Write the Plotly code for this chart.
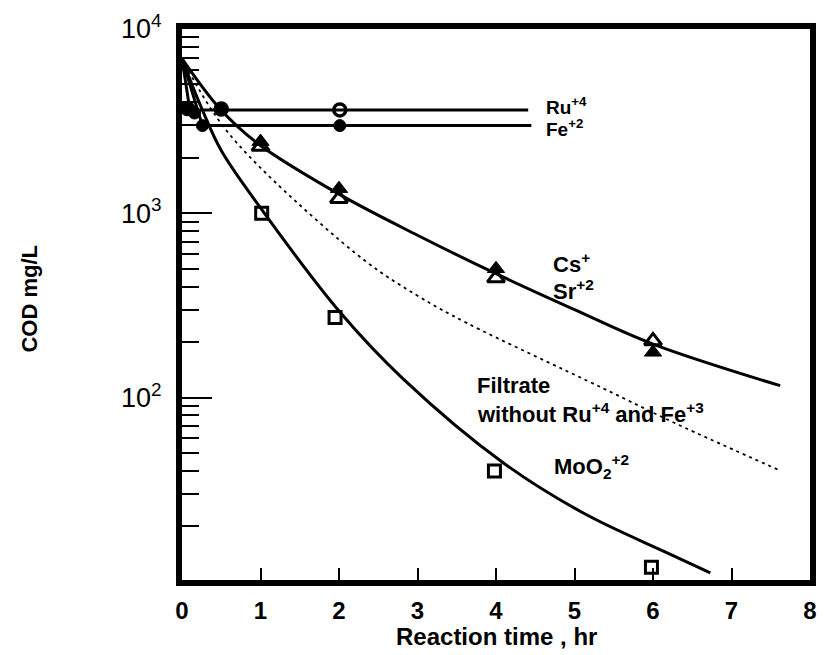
import math
import plotly.graph_objects as go

# ---------------- data ----------------
# Ru+4 markers and line
ru_pts_x = [0.07, 0.5, 2.01]
ru_pts_y = [3700, 3680, 3640]
ru_line_x = [0, 0.1, 4.41]
ru_line_y = [6900, 3640, 3640]

# Fe+2 markers and line
fe_pts_x = [0.16, 0.26, 2.01]
fe_pts_y = [3500, 2990, 2990]
fe_line_x = [0, 0.26, 4.45]
fe_line_y = [6900, 2990, 2990]

# Cs+ (filled triangles) and Sr+2 (open triangles)
cs_x = [1, 2, 4, 6]
cs_y = [2450, 1360, 500, 176]
sr_x = [1, 2, 4, 6]
sr_y = [2300, 1200, 445, 203]
cssr_curve_x = [0, 0.48, 0.96, 2.0, 3.0, 4.0, 5.0, 6.0, 7.62]
cssr_curve_y = [6900, 3700, 2400, 1270, 760, 470, 300, 195, 116]

# MoO2+2 (open squares)
mo_x = [1.015, 1.95, 3.98, 5.98]
mo_y = [1000, 272, 40, 12]
mo_curve_x = [0, 0.25, 0.5, 1.0, 2.0, 2.82, 4.1, 5.13, 6.16, 6.73]
mo_curve_y = [6900, 3720, 2190, 1070, 295, 126, 44, 23.4, 14.5, 11.2]

# Filtrate without Ru+4 and Fe+3 (dotted curve)
filt_x = [0, 0.3, 0.6, 1.17, 2.33, 3.0, 3.62, 5.35, 6.3, 7.63]
filt_y = [6900, 4100, 2700, 1500, 553, 357, 255, 113, 72, 40]

# axis ticks
x_ticks = [0, 1, 2, 3, 4, 5, 6, 7, 8]
y_major = [100, 1000, 10000]
y_major_text = ["10<sup>2</sup>", "10<sup>3</sup>", "10<sup>4</sup>"]
y_minor = [m * d for d in (10, 100, 1000) for m in range(2, 10)]

FONT = "Arial, Liberation Sans, sans-serif"
LW = 3

fig = go.Figure()

def line(x, y, dash="solid", width=LW, shape="spline"):
    fig.add_trace(go.Scatter(x=x, y=y, mode="lines",
                             line=dict(color="black", width=width, dash=dash,
                                       shape=shape, smoothing=1.0),
                             hoverinfo="skip", showlegend=False))

def pts(x, y, symbol, size=12, lw=3):
    fig.add_trace(go.Scatter(x=x, y=y, mode="markers",
                             marker=dict(symbol=symbol, size=size, color="black",
                                         line=dict(color="black", width=lw)),
                             showlegend=False))

line(ru_line_x, ru_line_y, shape="linear")
line(fe_line_x, fe_line_y, shape="linear")
line(cssr_curve_x, cssr_curve_y)
line(mo_curve_x, mo_curve_y)
line(filt_x, filt_y, dash="3px,4px", width=1.8)

pts(ru_pts_x, ru_pts_y, ["circle", "circle", "circle-open"], size=12, lw=3.5)
pts(fe_pts_x, fe_pts_y, "circle", size=12, lw=1)
pts(sr_x, sr_y, "triangle-up-open", size=15, lw=3)
pts(cs_x, cs_y, "triangle-up", size=15, lw=1)
pts(mo_x, mo_y, "square-open", size=12, lw=3)

labels = [
    (4.61, 3800, "Ru<sup>+4</sup>", 19),
    (4.61, 2900, "Fe<sup>+2</sup>", 19),
    (4.70, 540, "Cs<sup>+</sup>", 22),
    (4.70, 385, "Sr<sup>+2</sup>", 22),
    (3.73, 116, "Filtrate", 22),
    (3.73, 82, "without Ru<sup>+4</sup> and Fe<sup>+3</sup>", 22),
    (4.71, 42, "MoO<sub>2</sub><sup>+2</sup>", 22),
]
for lx, ly, t, fs in labels:
    fig.add_annotation(x=lx, y=math.log10(ly), yref="y", xref="x", text=t,
                       showarrow=False, xanchor="left", yanchor="middle",
                       font=dict(family=FONT, size=fs, color="black", weight="bold"))

fig.add_annotation(xref="paper", yref="paper", x=0.5, y=-0.103,
                   text="Reaction time , hr", showarrow=False,
                   xanchor="center", yanchor="middle",
                   font=dict(family=FONT, size=24, color="black", weight="bold"))
fig.add_annotation(xref="paper", yref="paper", x=-0.2435, y=0.511,
                   text="COD mg/L", showarrow=False, textangle=-90,
                   xanchor="center", yanchor="middle",
                   font=dict(family=FONT, size=22, color="black", weight="bold"))

fig.update_layout(
    width=827, height=655,
    margin=dict(l=182, r=10, t=28, b=75),
    paper_bgcolor="white", plot_bgcolor="white",
    showlegend=False,
    xaxis=dict(range=[0, 8], tickvals=x_ticks, ticks="inside", ticklen=12,
               tickwidth=2, tickcolor="black", showgrid=False, zeroline=False,
               showline=True, linewidth=6, linecolor="black", mirror=True,
               ticklabelstandoff=4,
               tickfont=dict(family=FONT, size=24, color="black", weight="bold")),
    yaxis=dict(type="log", range=[1.01, 4.0], tickvals=y_major, ticktext=y_major_text,
               ticks="inside", ticklen=30, tickwidth=2, tickcolor="black",
               showgrid=False, zeroline=False, showline=True, linewidth=6,
               linecolor="black", mirror=True, ticklabelstandoff=9,
               tickfont=dict(family=FONT, size=27, color="black"),
               minor=dict(tickmode="array", tickvals=y_minor, ticks="inside",
                          ticklen=17, tickwidth=2, tickcolor="black", showgrid=False)),
)

fig.write_html("out.html", config={"displayModeBar": False},
               post_script="document.body.style.margin='0';")
